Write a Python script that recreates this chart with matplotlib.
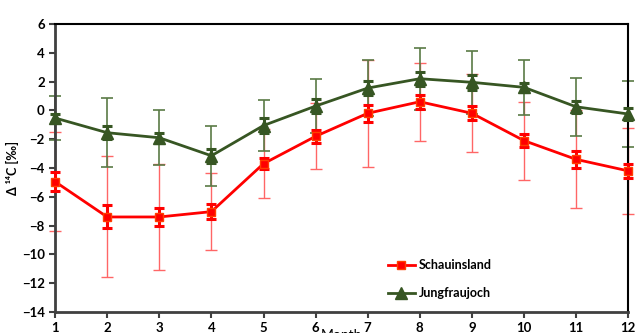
import matplotlib
matplotlib.use("Agg")
import matplotlib.pyplot as plt

months = [1, 2, 3, 4, 5, 6, 7, 8, 9, 10, 11, 12]

# Schauinsland
schau = [-4.95, -7.4, -7.4, -7.03, -3.7, -1.8, -0.2, 0.6, -0.2, -2.1, -3.4, -4.2]
schau_sd = [3.45, 4.2, 3.65, 2.65, 2.4, 2.3, 3.7, 2.7, 2.7, 2.7, 3.4, 3.0]
schau_se = [0.65, 0.8, 0.65, 0.5, 0.4, 0.45, 0.6, 0.5, 0.5, 0.45, 0.6, 0.5]

# Jungfraujoch
jungfrau = [-0.53, -1.55, -1.9, -3.15, -1.05, 0.3, 1.55, 2.2, 1.95, 1.6, 0.25, -0.25]
jungfrau_sd = [1.5, 2.4, 1.9, 2.1, 1.8, 1.9, 1.95, 2.15, 2.2, 1.9, 2.0, 2.3]
jungfrau_se = [0.3, 0.45, 0.35, 0.5, 0.5, 0.5, 0.5, 0.5, 0.5, 0.3, 0.4, 0.4]

plt.rcParams['font.family'] = ['Lato', 'DejaVu Sans']
plt.rcParams['font.weight'] = 'bold'

fig = plt.figure(figsize=(6.41, 3.33), dpi=100)
ax = fig.add_axes([0.086, 0.063, 0.894, 0.865])

red = "#ff0000"
green = "#375623"

# wide (std dev) whiskers
ax.errorbar(months, schau, yerr=schau_sd, fmt="none", ecolor="#ff6666",
            elinewidth=1, capsize=4, capthick=1, clip_on=False, zorder=2)
ax.errorbar(months, jungfrau, yerr=jungfrau_sd, fmt="none", ecolor="#5a7a46",
            elinewidth=1.2, capsize=4, capthick=1.2, clip_on=False, zorder=2)

# narrow (std error) whiskers
ax.errorbar(months, schau, yerr=schau_se, fmt="none", ecolor=red,
            elinewidth=2.2, capsize=3.5, capthick=2.2, clip_on=False, zorder=3)
ax.errorbar(months, jungfrau, yerr=jungfrau_se, fmt="none", ecolor=green,
            elinewidth=2.2, capsize=3.5, capthick=2.2, clip_on=False, zorder=3)

ax.plot(months, schau, color=red, marker="s", markersize=6, linewidth=2,
        markeredgecolor="#ff4000", label="Schauinsland", clip_on=False, zorder=4)
ax.plot(months, jungfrau, color=green, marker="^", markersize=8, linewidth=2,
        label="Jungfraujoch", clip_on=False, zorder=4)

ax.set_xlim(1, 12)
ax.set_ylim(-14, 6)
ax.set_xticks(months)
ax.set_yticks(range(-14, 7, 2))
ax.tick_params(direction="out", length=4, labelsize=9.5, width=1.5, colors="#404040",
               labelcolor="black")

for side in ["left", "bottom"]:
    ax.spines[side].set_color("#404040")
    ax.spines[side].set_linewidth(2)
for side in ["top", "right"]:
    ax.spines[side].set_color("black")
    ax.spines[side].set_linewidth(1.5)

ax.set_ylabel("Δ ¹⁴C [‰]", fontsize=9, labelpad=2, fontweight="bold")
ax.set_xlabel("Month", fontsize=10, labelpad=-4)

ax.legend(loc="lower left", bbox_to_anchor=(0.565, 0.015), frameon=False,
          fontsize=9, handlelength=2.2, labelspacing=1.25, borderaxespad=0.3,
          handletextpad=0.3)

fig.savefig("out.png", dpi=100)
